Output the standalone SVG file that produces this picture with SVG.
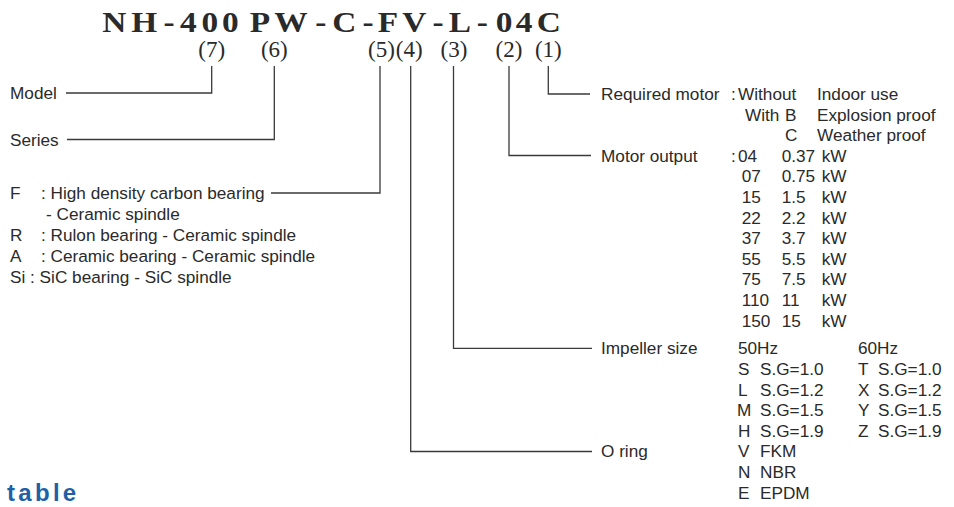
<svg xmlns="http://www.w3.org/2000/svg" width="954" height="507" viewBox="0 0 954 507">
<style>
.t{font-family:"Liberation Sans",Arial,sans-serif;font-size:17.2px;fill:#2a2a2a}
.title{font-family:"Liberation Serif","Times New Roman",serif;font-weight:bold;font-size:29px;fill:#2a2a2a;text-anchor:middle}
.num{font-family:"Liberation Serif","Times New Roman",serif;font-size:23px;fill:#2a2a2a;text-anchor:middle}
.c{fill:none;stroke:#3a3a3a;stroke-width:1.3}
.blue{font-family:"Liberation Sans",Arial,sans-serif;font-weight:bold;font-size:24px;fill:#1f5fa6;letter-spacing:3.3px}
</style>
<rect width="954" height="507" fill="#fff"/>
<g id="title">
<text class="title" transform="scale(1.15,1)" y="32" x="99.3 125.4 147 163.7 182.4 200.4 226.1 252.9 279 299.3 320 337.4 360.2 380.9 400 419.4 438.4 455.8 477.2">NH-400PW-C-FV-L-04C</text>
</g>
<g id="positions">
<text class="num" x="211.7" y="57">(7)</text>
<text class="num" x="274.3" y="57">(6)</text>
<text class="num" x="381.5" y="57">(5)</text>
<text class="num" x="409.2" y="57">(4)</text>
<text class="num" x="454" y="57">(3)</text>
<text class="num" x="509" y="57">(2)</text>
<text class="num" x="548.3" y="57">(1)</text>
</g>
<g id="connectors">
<path class="c" d="M211.7 66V93H66"/>
<path class="c" d="M274.3 66V139.5H67"/>
<path class="c" d="M380 66V193H271"/>
<path class="c" d="M410.7 66V451.5H592"/>
<path class="c" d="M453.5 66V348.3H592"/>
<path class="c" d="M509 66V155.5H591"/>
<path class="c" d="M548.3 66V94H590"/>
</g>
<g id="model"><text class="t" x="10" y="99">Model</text></g>
<g id="series"><text class="t" x="10" y="145.5">Series</text></g>
<g id="bearing">
<text class="t" y="199"><tspan x="10">F</tspan><tspan x="41">: High density carbon bearing</tspan></text>
<text class="t" x="46" y="220">- Ceramic spindle</text>
<text class="t" y="241"><tspan x="10">R</tspan><tspan x="41">: Rulon bearing - Ceramic spindle</tspan></text>
<text class="t" y="262"><tspan x="10">A</tspan><tspan x="41">: Ceramic bearing - Ceramic spindle</tspan></text>
<text class="t" x="10" y="283">Si : SiC bearing - SiC spindle</text>
</g>
<g id="required-motor">
<text class="t" y="100"><tspan x="601">Required motor</tspan><tspan x="731">:</tspan><tspan x="738">Without</tspan><tspan x="817">Indoor use</tspan></text>
<text class="t" y="120.6"><tspan x="745">With</tspan><tspan x="785">B</tspan><tspan x="817">Explosion proof</tspan></text>
<text class="t" y="141.2"><tspan x="785">C</tspan><tspan x="817">Weather proof</tspan></text>
</g>
<g id="motor-output">
<text class="t" y="161.8"><tspan x="601">Motor output</tspan><tspan x="731">:</tspan><tspan x="738">04</tspan><tspan x="781.7">0.37</tspan><tspan x="821.7">kW</tspan></text>
<text class="t" y="182.4"><tspan x="741.7">07</tspan><tspan x="781.7">0.75</tspan><tspan x="821.7">kW</tspan></text>
<text class="t" y="203"><tspan x="741.7">15</tspan><tspan x="781.7">1.5</tspan><tspan x="821.7">kW</tspan></text>
<text class="t" y="223.6"><tspan x="741.7">22</tspan><tspan x="781.7">2.2</tspan><tspan x="821.7">kW</tspan></text>
<text class="t" y="244.2"><tspan x="741.7">37</tspan><tspan x="781.7">3.7</tspan><tspan x="821.7">kW</tspan></text>
<text class="t" y="264.8"><tspan x="741.7">55</tspan><tspan x="781.7">5.5</tspan><tspan x="821.7">kW</tspan></text>
<text class="t" y="285.4"><tspan x="741.7">75</tspan><tspan x="781.7">7.5</tspan><tspan x="821.7">kW</tspan></text>
<text class="t" y="306"><tspan x="741.7">110</tspan><tspan x="781.7">11</tspan><tspan x="821.7">kW</tspan></text>
<text class="t" y="326.6"><tspan x="741.7">150</tspan><tspan x="781.7">15</tspan><tspan x="821.7">kW</tspan></text>
</g>
<g id="impeller-size">
<text class="t" y="354.3"><tspan x="601">Impeller size</tspan><tspan x="738">50Hz</tspan><tspan x="858">60Hz</tspan></text>
<text class="t" y="374.9"><tspan x="738">S</tspan><tspan x="760">S.G=1.0</tspan><tspan x="858">T</tspan><tspan x="878">S.G=1.0</tspan></text>
<text class="t" y="395.5"><tspan x="738">L</tspan><tspan x="760">S.G=1.2</tspan><tspan x="858">X</tspan><tspan x="878">S.G=1.2</tspan></text>
<text class="t" y="416.1"><tspan x="737">M</tspan><tspan x="760">S.G=1.5</tspan><tspan x="858">Y</tspan><tspan x="878">S.G=1.5</tspan></text>
<text class="t" y="436.7"><tspan x="738">H</tspan><tspan x="760">S.G=1.9</tspan><tspan x="858">Z</tspan><tspan x="878">S.G=1.9</tspan></text>
</g>
<g id="o-ring">
<text class="t" y="457.3"><tspan x="601">O ring</tspan><tspan x="738">V</tspan><tspan x="760">FKM</tspan></text>
<text class="t" y="477.9"><tspan x="738">N</tspan><tspan x="760">NBR</tspan></text>
<text class="t" y="498.5"><tspan x="738">E</tspan><tspan x="760">EPDM</tspan></text>
</g>
<g id="heading"><text class="blue" x="7" y="501">table</text></g>
</svg>
